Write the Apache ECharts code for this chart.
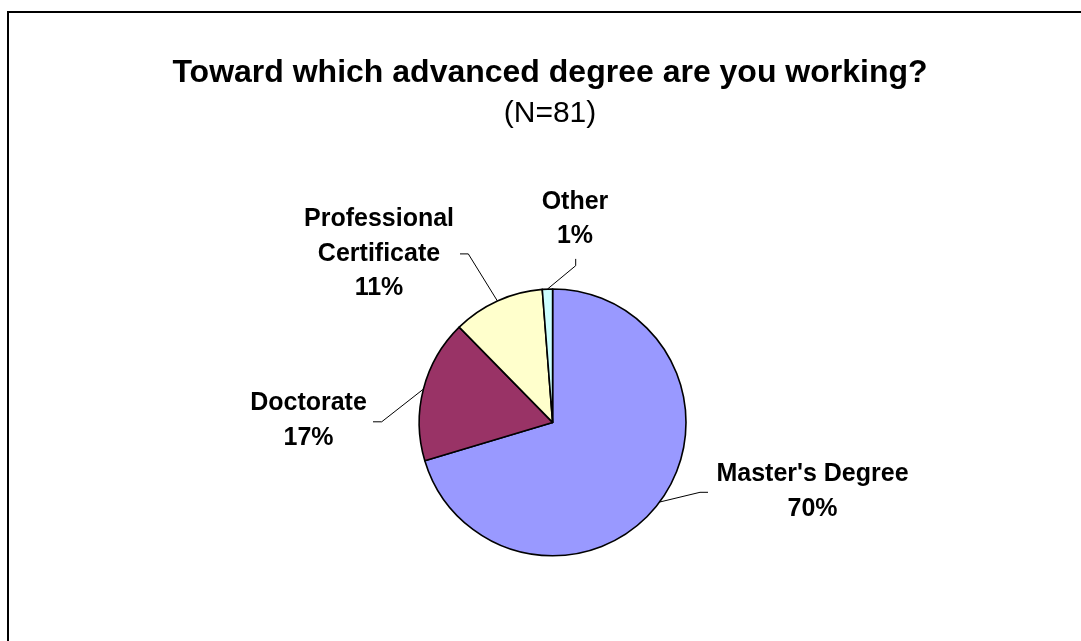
<!DOCTYPE html>
<html>
<head>
<meta charset="utf-8">
<script src="https://cdn.jsdelivr.net/npm/echarts@6/dist/echarts.min.js"></script>
<style>
  html, body { margin: 0; padding: 0; background: #fff; }
  #chart { width: 1081px; height: 641px; }
</style>
</head>
<body>
<div id="chart"></div>
<script>
// ---- data ----
const titleText = 'Toward which advanced degree are you working?';
const subtitleText = '(N=81)';
const categories = ["Master's Degree", 'Doctorate', 'Professional Certificate', 'Other'];
const counts = [57, 14, 9, 1];
const colors = ['#9999FF', '#993366', '#FFFFCC', '#CCFFFF'];

// ---- label layout (positions only) ----
const labelPos = [
  { x: 812.5, y: 491.5, end: [-104.5, 0.8], elbow: [-112.5, 0.8] },
  { x: 308.5, y: 420.8, end: [64.5, 1], elbow: [73.2, 1] },
  { x: 379, y: 253.9, end: [81, 0], elbow: [89.3, 0] },
  { x: 575, y: 218.9, end: [0.7, 40], elbow: [0.7, 46.8] }
];

const FONT = "'Liberation Sans', Arial, Helvetica, sans-serif";
const total = counts.reduce((a, b) => a + b, 0);

const chart = echarts.init(document.getElementById('chart'), null, { renderer: 'canvas' });

chart.setOption({
  backgroundColor: '#ffffff',
  animation: false,
  title: {
    text: titleText,
    subtext: subtitleText,
    left: 550,
    top: 57,
    padding: 0,
    itemGap: 10,
    textAlign: 'center',
    textStyle: { fontFamily: FONT, fontSize: 32, fontWeight: 'bold', color: '#000', lineHeight: 32 },
    subtextStyle: { fontFamily: FONT, fontSize: 30, fontWeight: 'normal', color: '#000', lineHeight: 30 }
  },
  graphic: [{
    type: 'rect',
    shape: { x: 8, y: 12, width: 1200, height: 800 },
    style: { fill: null, stroke: '#000', lineWidth: 2 },
    silent: true,
    z: 10
  }],
  series: [{
    type: 'pie',
    center: [552.6, 422.4],
    radius: 133.4,
    startAngle: 90,
    clockwise: true,
    data: categories.map((c, i) => ({ name: c, value: counts[i], itemStyle: { color: colors[i] } })),
    itemStyle: { borderColor: '#000', borderWidth: 1.6 },
    emphasis: { disabled: true },
    label: {
      show: true,
      position: 'outside',
      fontFamily: FONT,
      fontSize: 25,
      fontWeight: 'bold',
      color: '#000',
      lineHeight: 34.5,
      align: 'center',
      formatter: function (p) {
        const name = p.name.length > 20 ? p.name.replace(' ', '\n') : p.name;
        return name + '\n' + Math.round(p.value / total * 100) + '%';
      }
    },
    labelLine: {
      show: true,
      length: 10,
      length2: 10,
      lineStyle: { color: '#000', width: 1 }
    },
    labelLayout: function (params) {
      const p = labelPos[params.dataIndex];
      const start = params.labelLinePoints ? params.labelLinePoints[0] : [p.x, p.y];
      return {
        x: p.x,
        y: p.y,
        align: 'center',
        verticalAlign: 'middle',
        labelLinePoints: [
          start,
          [p.x + p.elbow[0], p.y + p.elbow[1]],
          [p.x + p.end[0], p.y + p.end[1]]
        ]
      };
    }
  }]
});
</script>
</body>
</html>
